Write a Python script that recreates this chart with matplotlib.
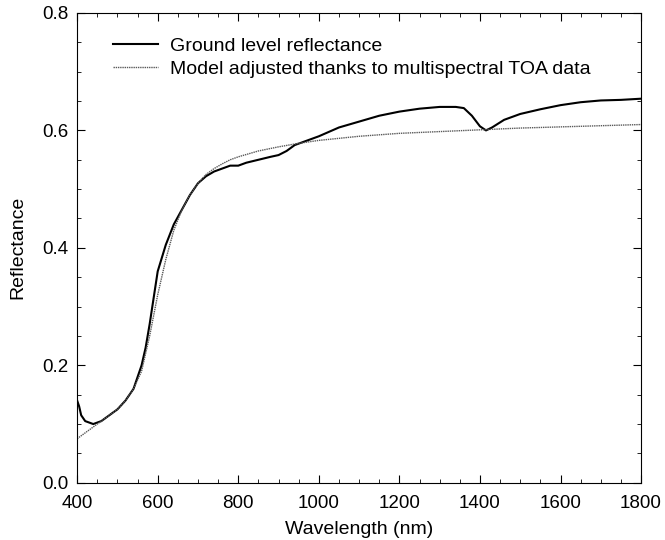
import numpy as np
import matplotlib
matplotlib.use("Agg")
import matplotlib.pyplot as plt
from matplotlib.ticker import MultipleLocator, FormatStrFormatter

plt.rcParams['font.family'] = ['Liberation Sans', 'DejaVu Sans']

# ground level reflectance (solid)
wl_ground = [400, 405, 410, 420, 440, 460, 480, 500, 520, 540, 560, 570, 580, 590,
             600, 620, 640, 660, 680, 700, 720, 740, 760, 780, 800, 820, 850,
             880, 900, 920, 940, 960, 980, 1000, 1050, 1100, 1150, 1200, 1250,
             1300, 1340, 1360, 1380, 1400, 1415, 1430, 1460, 1500, 1550, 1600,
             1650, 1700, 1750, 1800]
refl_ground = [0.14, 0.13, 0.115, 0.105, 0.100, 0.105, 0.115, 0.125, 0.140, 0.160,
               0.200, 0.230, 0.270, 0.315, 0.360, 0.405, 0.440, 0.465, 0.490,
               0.510, 0.522, 0.530, 0.535, 0.540, 0.540, 0.545, 0.550, 0.555,
               0.558, 0.565, 0.575, 0.580, 0.585, 0.590, 0.605, 0.615, 0.625,
               0.632, 0.637, 0.640, 0.640, 0.638, 0.625, 0.607, 0.600, 0.605,
               0.618, 0.628, 0.636, 0.643, 0.648, 0.651, 0.652, 0.654]

# model adjusted with multispectral TOA data (dotted)
wl_model = [400, 420, 440, 460, 480, 500, 520, 540, 560, 580, 600, 620, 640, 660,
            680, 700, 720, 740, 760, 780, 800, 850, 900, 950, 1000, 1100, 1200,
            1300, 1400, 1500, 1600, 1700, 1800]
refl_model = [0.075, 0.085, 0.095, 0.105, 0.115, 0.125, 0.140, 0.160, 0.190,
              0.250, 0.320, 0.380, 0.430, 0.465, 0.490, 0.510, 0.525, 0.535,
              0.543, 0.550, 0.555, 0.565, 0.572, 0.578, 0.583, 0.590, 0.595,
              0.598, 0.601, 0.604, 0.606, 0.608, 0.610]

fig = plt.figure(figsize=(6.65, 5.40), dpi=100)
ax = fig.add_axes([0.116, 0.106, 0.848, 0.870])

ax.plot(wl_ground, refl_ground, color='black', lw=1.5,
        label='Ground level reflectance')
ax.plot(wl_model, refl_model, color='0.35', lw=1.0, linestyle=(0, (1, 0.6)),
        label='Model adjusted thanks to multispectral TOA data')

ax.set_xlim(400, 1800)
ax.set_ylim(0.0, 0.8)
ax.xaxis.set_major_locator(MultipleLocator(200))
ax.xaxis.set_minor_locator(MultipleLocator(50))
ax.yaxis.set_major_locator(MultipleLocator(0.2))
ax.yaxis.set_minor_locator(MultipleLocator(0.05))
ax.yaxis.set_major_formatter(FormatStrFormatter('%.1f'))
ax.tick_params(which='both', direction='in', top=True, right=True, labelsize=13.5)
ax.tick_params(which='major', length=6, pad=6)
ax.tick_params(axis='x', which='major', pad=9)
ax.tick_params(which='minor', length=3)

ax.set_xlabel('Wavelength (nm)', fontsize=14, labelpad=6)
ax.set_ylabel('Reflectance', fontsize=14, labelpad=12)

ax.legend(loc='upper left', frameon=False, fontsize=14, handlelength=2.3,
          handletextpad=0.6, borderaxespad=0, borderpad=0, labelspacing=0.3,
          bbox_to_anchor=(0.064, 0.949))

fig.savefig('out.png', dpi=100)
